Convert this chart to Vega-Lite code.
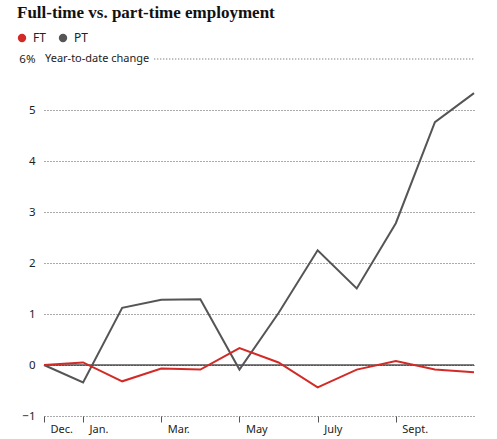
{
  "$schema": "https://vega.github.io/schema/vega-lite/v6.json",
  "width": 430,
  "height": 357,
  "autosize": {"type": "none"},
  "padding": {"left": 44, "top": 59, "right": 23, "bottom": 23},
  "background": "white",
  "title": {
    "text": "Full-time vs. part-time employment",
    "anchor": "start",
    "frame": "group",
    "font": "Liberation Serif",
    "fontSize": 17,
    "fontWeight": "bold",
    "color": "#111111",
    "dx": -27,
    "offset": 10
  },
  "config": {
    "view": {"stroke": null},
    "font": "Noto Sans"
  },
  "data": {
    "values": [
      {"month": "Dec.", "series": "PT", "value": 0},
      {"month": "Jan.", "series": "PT", "value": -0.34},
      {"month": "Feb.", "series": "PT", "value": 1.12},
      {"month": "Mar.", "series": "PT", "value": 1.28},
      {"month": "Apr.", "series": "PT", "value": 1.29},
      {"month": "May", "series": "PT", "value": -0.09},
      {"month": "June", "series": "PT", "value": 1.02},
      {"month": "July", "series": "PT", "value": 2.25},
      {"month": "Aug.", "series": "PT", "value": 1.5},
      {"month": "Sept.", "series": "PT", "value": 2.78},
      {"month": "Oct.", "series": "PT", "value": 4.76},
      {"month": "Nov.", "series": "PT", "value": 5.33},
      {"month": "Dec.", "series": "FT", "value": 0},
      {"month": "Jan.", "series": "FT", "value": 0.05},
      {"month": "Feb.", "series": "FT", "value": -0.32},
      {"month": "Mar.", "series": "FT", "value": -0.07},
      {"month": "Apr.", "series": "FT", "value": -0.09},
      {"month": "May", "series": "FT", "value": 0.33},
      {"month": "June", "series": "FT", "value": 0.05},
      {"month": "July", "series": "FT", "value": -0.44},
      {"month": "Aug.", "series": "FT", "value": -0.09},
      {"month": "Sept.", "series": "FT", "value": 0.08},
      {"month": "Oct.", "series": "FT", "value": -0.09},
      {"month": "Nov.", "series": "FT", "value": -0.14}
    ]
  },
  "layer": [
    {
      "data": {"values": [{}]},
      "mark": {"type": "rule", "color": "#000000", "strokeWidth": 1},
      "encoding": {"y": {"datum": 0}}
    },
    {
      "data": {"values": [{}]},
      "mark": {"type": "rule", "color": "#555555", "strokeWidth": 1, "strokeDash": [1, 2], "xOffset": -7},
      "encoding": {
        "x": {"datum": "Mar."},
        "x2": {"datum": "Nov."},
        "y": {"datum": 6}
      }
    },
    {
      "data": {"values": [{}]},
      "mark": {"type": "text", "align": "left", "baseline": "middle", "dx": 1, "fontSize": 11, "color": "#222222", "font": "Noto Sans"},
      "encoding": {
        "x": {"datum": "Dec."},
        "y": {"datum": 6},
        "text": {"value": "Year-to-date change"}
      }
    },
    {
      "mark": {"type": "line", "strokeWidth": 2},
      "encoding": {
        "x": {
          "field": "month",
          "type": "ordinal",
          "sort": ["Dec.", "Jan.", "Feb.", "Mar.", "Apr.", "May", "June", "July", "Aug.", "Sept.", "Oct.", "Nov."],
          "scale": {"type": "point", "padding": 0},
          "axis": {
            "title": null,
            "values": ["Dec.", "Jan.", "Mar.", "May", "July", "Sept."],
            "labelAngle": 0,
            "labelAlign": "left",
            "labelBaseline": "top",
            "labelOffset": 6,
            "labelPadding": 1,
            "labelFontSize": 11,
            "labelColor": "#222222",
            "domain": false,
            "grid": false,
            "tickSize": 6,
            "tickColor": "#555555"
          }
        },
        "y": {
          "field": "value",
          "type": "quantitative",
          "scale": {"domain": [-1, 6], "nice": false, "zero": false},
          "axis": {
            "title": null,
            "values": [-1, 0, 1, 2, 3, 4, 5, 6],
            "labelExpr": "datum.value == 6 ? '6%' : datum.label",
            "labelFontSize": 11.5,
            "labelColor": "#222222",
            "labelPadding": 9,
            "domain": false,
            "ticks": false,
            "grid": true,
            "gridColor": "#555555",
            "gridDash": [1, 2],
            "gridOpacity": {"condition": {"test": "datum.value == 6", "value": 0}, "value": 1}
          }
        },
        "color": {
          "field": "series",
          "type": "nominal",
          "scale": {"domain": ["FT", "PT"], "range": ["#d22b27", "#555555"]},
          "legend": {
            "title": null,
            "orient": "none",
            "legendX": -28,
            "legendY": -27,
            "direction": "horizontal",
            "symbolType": "circle",
            "symbolSize": 70,
            "symbolStrokeWidth": 0,
            "labelFontSize": 12,
            "labelColor": "#222222",
            "labelOffset": 5,
            "columnPadding": 11,
            "padding": 0,
            "encode": {
              "symbols": {
                "update": {
                  "fill": {"scale": "color", "field": "value"},
                  "strokeWidth": {"value": 0}
                }
              }
            }
          }
        },
        "order": {"field": "series", "sort": "descending"}
      }
    }
  ]
}
